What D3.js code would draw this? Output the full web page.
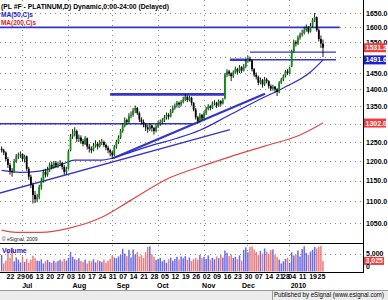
<!DOCTYPE html>
<html><head><meta charset="utf-8">
<script src="https://cdn.jsdelivr.net/npm/d3@7"></script>
<style>
html,body{margin:0;padding:0;background:#fff;}
svg{display:block;font-family:Arial,"Liberation Sans",sans-serif;}
</style></head><body>
<svg id="c" width="388" height="300"></svg>
<script>
// ---- data ----
const ohlc = [
[1232,1238,1222,1228],[1228,1232,1215,1222],[1222,1225,1200,1205],[1205,1210,1182,1190],
[1190,1195,1165,1175],[1175,1182,1160,1172],[1172,1205,1170,1200],[1200,1218,1195,1212],[1212,1222,1205,1215],
[1215,1225,1208,1218],[1218,1220,1198,1205],[1205,1216,1196,1212],[1212,1214,1175,1180],
[1180,1185,1152,1160],[1160,1165,1132,1140],[1140,1145,1095,1115],[1115,1125,1096,1105],[1105,1118,1098,1110],
[1110,1140,1105,1135],[1135,1158,1128,1150],[1150,1178,1145,1172],[1172,1180,1158,1165],[1165,1185,1160,1178],
[1178,1196,1172,1190],[1190,1198,1178,1185],[1185,1200,1180,1195],[1195,1200,1182,1188],[1188,1198,1182,1192],
[1192,1202,1186,1195],[1195,1198,1178,1185],[1185,1190,1165,1172],[1172,1185,1166,1178],[1180,1230,1178,1225],
[1228,1272,1225,1265],[1265,1285,1258,1272],[1272,1290,1265,1280],[1280,1284,1250,1258],[1258,1270,1250,1262],
[1262,1268,1245,1252],[1252,1258,1238,1245],[1245,1266,1242,1260],[1260,1262,1230,1238],[1238,1245,1222,1232],
[1232,1238,1220,1228],[1228,1248,1225,1240],[1240,1255,1235,1245],[1245,1250,1230,1238],[1238,1255,1235,1248],
[1248,1258,1242,1250],[1250,1254,1236,1242],[1242,1246,1228,1235],[1235,1240,1220,1228],[1228,1232,1212,1222],
[1222,1226,1205,1215],[1215,1242,1212,1238],[1238,1256,1232,1250],[1250,1268,1245,1262],[1262,1285,1258,1280],
[1280,1302,1275,1295],[1295,1318,1290,1310],[1310,1315,1296,1305],[1305,1330,1300,1322],
[1322,1335,1315,1325],[1325,1345,1320,1338],[1338,1352,1330,1345],[1345,1348,1325,1330],[1330,1335,1305,1312],
[1312,1318,1298,1305],[1305,1312,1290,1298],[1298,1302,1280,1290],[1290,1298,1275,1285],[1285,1302,1280,1295],
[1295,1298,1278,1288],[1288,1292,1270,1280],[1280,1298,1276,1292],[1292,1308,1288,1300],[1300,1312,1294,1305],
[1305,1316,1298,1310],[1310,1325,1305,1318],[1318,1332,1312,1325],[1325,1330,1312,1320],[1320,1342,1318,1335],
[1335,1352,1330,1345],[1345,1358,1340,1352],[1352,1366,1346,1360],[1360,1364,1345,1355],[1355,1368,1350,1362],
[1362,1378,1358,1370],[1370,1385,1365,1378],[1378,1382,1362,1368],[1368,1380,1364,1375],[1375,1378,1352,1360],
[1360,1362,1335,1340],[1340,1345,1312,1318],[1318,1322,1300,1308],[1308,1330,1304,1325],[1325,1328,1310,1315],
[1315,1336,1312,1330],[1330,1348,1325,1342],[1342,1356,1338,1350],[1350,1354,1338,1345],[1345,1364,1342,1358],
[1358,1368,1352,1360],[1360,1363,1345,1352],[1352,1370,1348,1365],[1365,1368,1350,1358],[1358,1374,1355,1368],
[1372,1450,1370,1445],[1445,1462,1438,1455],[1455,1460,1440,1448],[1448,1452,1425,1440],[1440,1458,1435,1452],
[1452,1470,1448,1462],[1462,1466,1445,1455],[1455,1475,1450,1468],[1468,1472,1450,1458],
[1458,1478,1455,1470],[1470,1495,1466,1488],[1488,1505,1482,1495],[1495,1502,1485,1490],[1490,1494,1455,1462],
[1462,1466,1438,1445],[1445,1452,1430,1438],[1438,1442,1412,1420],[1420,1436,1415,1428],[1428,1432,1405,1415],
[1415,1438,1410,1430],[1430,1435,1418,1425],[1425,1428,1402,1410],[1410,1415,1395,1402],[1402,1414,1396,1408],
[1408,1410,1390,1400],[1400,1404,1380,1392],[1392,1425,1388,1420],[1420,1435,1416,1430],
[1430,1446,1425,1440],[1440,1460,1436,1455],[1455,1462,1444,1450],[1450,1470,1446,1465],
[1470,1525,1468,1520],[1520,1558,1515,1550],[1550,1556,1535,1545],[1545,1572,1540,1565],[1565,1582,1558,1575],
[1575,1592,1568,1580],[1580,1602,1575,1590],[1590,1610,1585,1598],[1598,1604,1578,1585],[1585,1615,1582,1605],
[1605,1632,1600,1625],[1625,1650,1618,1635],[1635,1638,1585,1590],[1590,1596,1552,1560],
[1560,1572,1530,1545],[1545,1558,1500,1531.2]
];
const volumes = [
4700,2300,3100,6200,3900,6800,2900,4000,3400,
2600,4300,2700,3600,2500,3400,4500,3800,3100,
3000,3500,2300,2900,3300,2700,2500,3100,2600,3000,
3400,2900,3600,3100,3900,5600,4200,3500,3300,3800,
3000,2700,3400,2300,3100,2900,3500,2600,3300,3000,
2700,3400,2500,3100,3600,4600,4000,3800,4300,4700,
6500,5100,4400,6200,4000,6300,4800,5500,4300,
4700,3900,5500,7000,7200,4900,4200,3300,3600,3900,
2900,3300,2500,3500,4000,3100,3600,4200,3400,4300,
3800,4400,3400,4000,3000,3500,3900,3300,4700,3800,
4200,3600,4600,3400,3900,3500,4300,3800,4700,4000,
6000,5300,4400,4900,3900,4200,3500,4600,3100,
6200,6900,5500,7000,7200,6300,5600,4700,5900,5100,
6600,5700,5100,6100,6300,4700,4200,3400,2300,
2900,3600,3900,2500,5500,4600,4900,6000,4300,
6400,7200,5300,4800,5700,6200,7000,6600,7100,
7300,3025
];
const firstWeekBars = 4;
const weekLabels = ["22","29","06","13","20","27","03","10","17","24","31","07","14","21","28","05","12","19","26","02","09","16","23","30","07","14","21","28","04","11","19","25"];
const weekBars   = [5,4,5,5,5,5,5,5,5,5,5,5,5,5,5,5,5,5,5,5,5,5,5,5,5,5,3,3,5,5,4,2];
const monthLabels = ["Jul","Aug","Sep","Oct","Nov","Dec","2010"];
const monthLabelBars = [12,37,58,77,99,118,142];
const monthStartBars = [11,33,54,76,98,119,139];
const priceTicks = [1050,1100,1150,1200,1250,1300,1350,1400,1450,1500,1550,1600,1650];
const priceLabelTicks = [1050,1100,1150,1200,1250,1350,1400,1450,1550,1600,1650];
const volumeTicks = [0,5000];
const ma50Bars   = [0,9,18,28,35,48,53,62,72,84,95,109,125,135,148,154];
const ma50Values = [1176,1171,1174,1189,1202,1202,1207,1223,1241,1260,1282,1324,1374,1404,1453,1491.6];
const ma200Bars   = [0,7,19,32,48,62,80,95,109,126,143,154];
const ma200Values = [1034,1029,1029,1038,1063,1103,1156,1185,1210,1239,1269,1302.0];
// drawn trend lines: [bar1, price1, bar2, price2, weight]
const trendLines = [
 [-1,1600,162,1600,1.8],
 [52,1385,107,1385,2.6],
 [-1,1300,92.5,1300,1.3],
 [53.4,1207,126.2,1387,2.2],
 [-0.8,1120,109.4,1284,1.3],
 [119,1517,160.2,1517,1.3],
 [109.4,1492,160.2,1492,1.3],
 [109.4,1492,119,1492,2.4]
];
const lastClose = 1531.2, lastMA50 = 1491.6, lastMA200 = 1302.0, lastVolume = 3025;

// ---- scales ----
const svg = d3.select("#c");
const W = 388, H = 300, plotR = 363, priceBottom = 243, volBottom = 271.5;
const x = d3.scaleLinear().domain([0,154]).range([1.65,323]);
const y = d3.scaleLog().domain([1050,1650]).range([223,13]);
const yv = d3.scaleLinear().domain([0,5000]).range([volBottom,254]);

svg.append("rect").attr("width",W).attr("height",H).attr("fill","#fff");
svg.append("defs").append("clipPath").attr("id","pc").append("rect")
  .attr("x",0).attr("y",0).attr("width",plotR).attr("height",priceBottom);

// grid
const grid = svg.append("g").attr("stroke","#8a8a8a").attr("stroke-width",1).attr("stroke-dasharray","1,4");
priceTicks.forEach(p=>{
  const yy = Math.round(y(p))+0.5;
  grid.append("line").attr("x1",0).attr("x2",plotR).attr("y1",yy).attr("y2",yy);
});
monthStartBars.forEach(b=>{
  const xx = Math.round(x(b-1.2))+0.5;
  grid.append("line").attr("x1",xx).attr("x2",xx).attr("y1",0).attr("y2",volBottom);
});
grid.append("line").attr("x1",0).attr("x2",plotR).attr("y1",Math.round(yv(5000))+0.5).attr("y2",Math.round(yv(5000))+0.5);

// trend lines
const pg = svg.append("g").attr("clip-path","url(#pc)");
trendLines.forEach(t=>{
  pg.append("line").attr("x1",x(t[0])).attr("y1",y(t[1])).attr("x2",x(t[2])).attr("y2",y(t[3]))
    .attr("stroke","#3535c8").attr("stroke-width",t[4]);
});

// moving averages
const line = d3.line().x(d=>x(d[0])).y(d=>y(d[1])).curve(d3.curveMonotoneX);
pg.append("path").attr("d",line(ma200Bars.map((b,i)=>[b,ma200Values[i]])))
  .attr("fill","none").attr("stroke","#e04848").attr("stroke-width",1.2);
pg.append("path").attr("d",line(ma50Bars.map((b,i)=>[b,ma50Values[i]])))
  .attr("fill","none").attr("stroke","#2b2bd8").attr("stroke-width",1.2);

// candles
const cg = pg.append("g");
ohlc.forEach((d,i)=>{
  const [o,h,l,c] = d;
  const up = c >= o;
  const cx = x(i);
  cg.append("line").attr("x1",cx).attr("x2",cx).attr("y1",y(h)).attr("y2",y(l))
    .attr("stroke","#000").attr("stroke-width",0.9);
  const y0 = y(Math.max(o,c)), y1 = y(Math.min(o,c));
  cg.append("rect").attr("x",cx-0.9).attr("width",1.8).attr("y",y0).attr("height",Math.max(0.8,y1-y0))
    .attr("fill",up?"#0e8e0e":"#000");
});

// volume bars
const vg = svg.append("g");
volumes.forEach((v,i)=>{
  const up = i===0 ? true : ohlc[i][3] >= ohlc[i-1][3];
  vg.append("rect").attr("x",x(i)-0.75).attr("width",1.5).attr("y",yv(v)).attr("height",volBottom-yv(v))
    .attr("fill",up?"#6a6ae8":"#ec7a7a");
});

// frames
const fr = svg.append("g").attr("stroke","#000").attr("stroke-width",1);
fr.append("line").attr("x1",0).attr("x2",plotR).attr("y1",priceBottom+0.5).attr("y2",priceBottom+0.5);
fr.append("line").attr("x1",0).attr("x2",plotR).attr("y1",272.5).attr("y2",272.5);
fr.append("line").attr("x1",plotR+0.5).attr("x2",plotR+0.5).attr("y1",0).attr("y2",273);

// price axis
const pa = svg.append("g").attr("transform",`translate(${plotR+1},0)`)
  .call(d3.axisRight(y).tickValues(priceLabelTicks).tickFormat(d3.format(".1f")).tickSize(0).tickPadding(2));
pa.select(".domain").remove();
pa.selectAll("text").attr("font-size","7px").attr("font-weight","bold").attr("fill","#000")
  .attr("font-family","Arial,'Liberation Sans',sans-serif");

// value boxes
function box(val, yy, color, txt){
  svg.append("rect").attr("x",plotR+1).attr("y",yy-4.5).attr("width",22).attr("height",9).attr("fill",color);
  svg.append("text").attr("x",plotR+2.5).attr("y",yy).attr("dy","0.35em").attr("font-size","7px")
    .attr("font-weight","bold").attr("fill","#fff").text(txt);
}
box(lastClose, y(lastClose), "#f03c3c", d3.format(".1f")(lastClose));
box(lastMA50, y(lastMA50), "#2020c8", d3.format(".1f")(lastMA50));
box(lastMA200, y(lastMA200), "#f03c3c", d3.format(".1f")(lastMA200));

// volume axis
svg.append("text").attr("x",plotR+3).attr("y",yv(5000)).attr("dy","0.35em").attr("font-size","7px")
  .attr("font-weight","bold").text(d3.format(",")(volumeTicks[1]));
svg.append("rect").attr("x",plotR+1).attr("y",yv(lastVolume)-4).attr("width",20).attr("height",8).attr("fill","#f03c3c");
svg.append("text").attr("x",plotR+2.5).attr("y",yv(lastVolume)).attr("dy","0.35em").attr("font-size","7px")
  .attr("font-weight","bold").attr("fill","#fff").text(d3.format(",")(lastVolume));
svg.append("text").attr("x",plotR+3).attr("y",267).attr("dy","0.35em").attr("font-size","7px")
  .attr("font-weight","bold").text(volumeTicks[0]);

// x axis: weeks
const weekStarts = [];
let acc = firstWeekBars;
weekBars.forEach(n=>{ weekStarts.push(acc); acc += n; });
const xa = svg.append("g").attr("transform","translate(0,273)")
  .call(d3.axisBottom(x).tickValues(weekStarts).tickFormat((d,i)=>weekLabels[i]).tickSize(0).tickPadding(1));
xa.select(".domain").remove();
xa.selectAll("text").attr("font-size","7px").attr("font-weight","bold").attr("fill","#000")
  .attr("font-family","Arial,'Liberation Sans',sans-serif");
const ma = svg.append("g").attr("transform","translate(0,283)")
  .call(d3.axisBottom(x).tickValues(monthLabelBars).tickFormat((d,i)=>monthLabels[i]).tickSize(0).tickPadding(0));
ma.select(".domain").remove();
ma.selectAll("text").attr("font-size","7px").attr("font-weight","bold").attr("fill","#000")
  .attr("font-family","Arial,'Liberation Sans',sans-serif");

// texts
svg.append("text").attr("x",1).attr("y",8.5).attr("font-size","7px").attr("font-weight","bold")
  .attr("textLength",168).attr("lengthAdjust","spacingAndGlyphs")
  .text("(PL #F - PLATINUM,D) Dynamic,0:00-24:00 (Delayed)");
svg.append("text").attr("x",1).attr("y",16.5).attr("font-size","7px").attr("font-weight","bold")
  .attr("fill","#1c1cc8").attr("textLength",32).attr("lengthAdjust","spacingAndGlyphs").text("MA(50,C)s");
svg.append("text").attr("x",1).attr("y",24.5).attr("font-size","7px").attr("font-weight","bold")
  .attr("fill","#e02020").attr("textLength",35).attr("lengthAdjust","spacingAndGlyphs").text("MA(200,C)s");
svg.append("text").attr("x",2).attr("y",240.5).attr("font-size","5px").attr("fill","#222").text("© eSignal, 2009");
svg.append("text").attr("x",2).attr("y",252.5).attr("font-size","7px").attr("font-weight","bold")
  .attr("fill","#2020c8").text("Volume");

// footer
svg.append("rect").attr("x",0).attr("y",290).attr("width",W).attr("height",10).attr("fill","#ececec");
svg.append("line").attr("x1",0).attr("x2",W).attr("y1",290.5).attr("y2",290.5).attr("stroke","#9a9a9a");
svg.append("line").attr("x1",272.5).attr("x2",272.5).attr("y1",291).attr("y2",300).attr("stroke","#9a9a9a");
svg.append("text").attr("x",274).attr("y",296.5).attr("font-size","6.5px")
  .attr("textLength",110).attr("lengthAdjust","spacingAndGlyphs").text("Published by eSignal (www.esignal.com)");
</script>
</body></html>
